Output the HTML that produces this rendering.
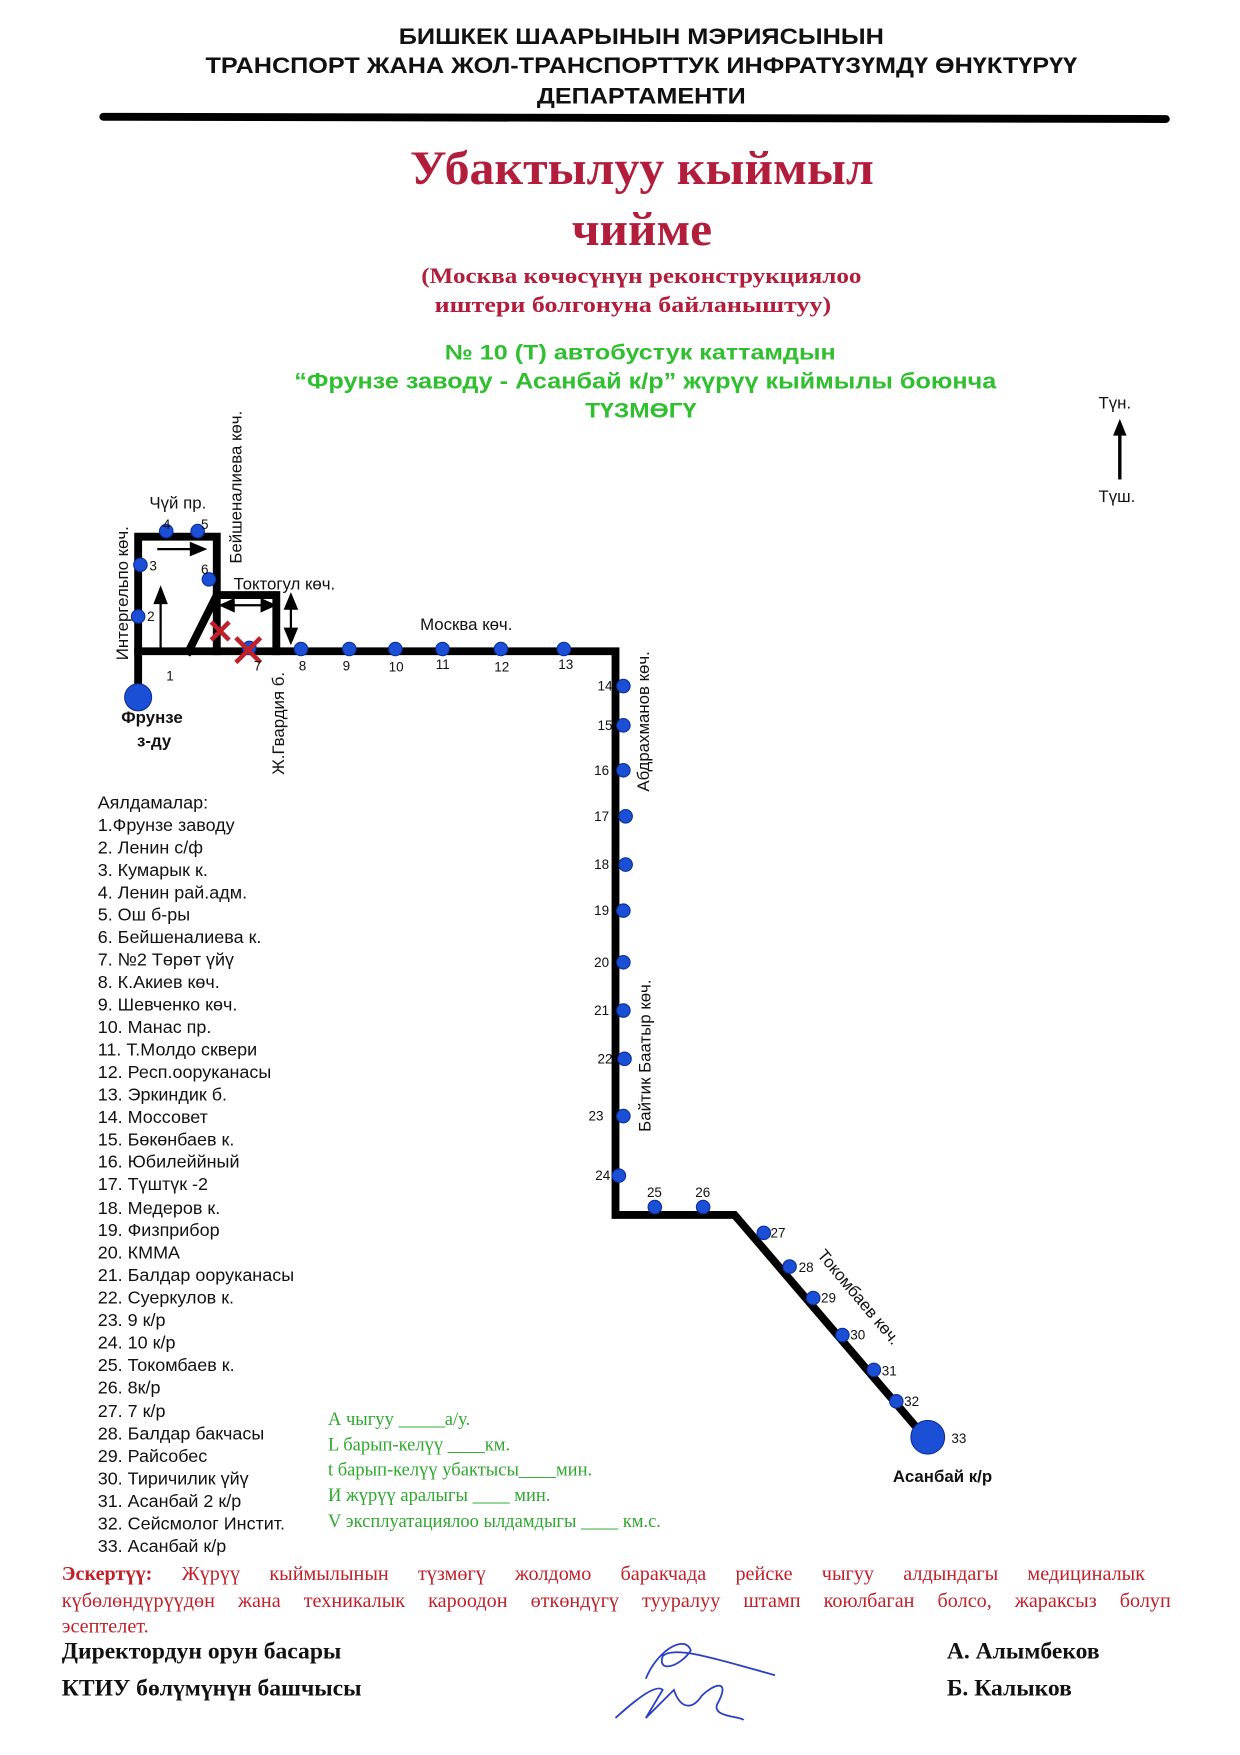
<!DOCTYPE html>
<html><head><meta charset="utf-8"><style>
html,body{margin:0;padding:0;background:#fff;}
svg{display:block;}
.s{font-family:"Liberation Sans",sans-serif;}
.r{font-family:"Liberation Serif",serif;}
</style></head><body>
<svg width="1240" height="1755" viewBox="0 0 1104 1563" preserveAspectRatio="none" xmlns="http://www.w3.org/2000/svg">
<rect width="1104" height="1563" fill="#fff"/>
<g class="s" font-weight="bold" fill="#111">
<text x="355" y="39" font-size="20" textLength="432" lengthAdjust="spacingAndGlyphs">БИШКЕК ШААРЫНЫН  МЭРИЯСЫНЫН</text>
<text x="183" y="65" font-size="20" textLength="776" lengthAdjust="spacingAndGlyphs">ТРАНСПОРТ ЖАНА ЖОЛ-ТРАНСПОРТТУК ИНФРАТҮЗҮМДҮ ӨНҮКТҮРҮҮ</text>
<text x="478" y="92" font-size="20" textLength="186" lengthAdjust="spacingAndGlyphs">ДЕПАРТАМЕНТИ</text>
</g>
<line x1="92" y1="104" x2="1038" y2="106" stroke="#000" stroke-width="7" stroke-linecap="round"/>
<g class="r" font-weight="bold" fill="#b31d3c">
<text x="365" y="164" font-size="42" textLength="413" lengthAdjust="spacingAndGlyphs">Убактылуу кыймыл</text>
<text x="509" y="218" font-size="42" textLength="125" lengthAdjust="spacingAndGlyphs">чийме</text>
<text x="375" y="252" font-size="20" textLength="392" lengthAdjust="spacingAndGlyphs">(Москва көчөсүнүн реконструкциялоо</text>
<text x="387" y="278" font-size="20" textLength="353" lengthAdjust="spacingAndGlyphs">иштери болгонуна байланыштуу)</text>
</g>
<g class="s" font-weight="bold" fill="#2fbf2f">
<text x="396" y="320" font-size="19" textLength="348" lengthAdjust="spacingAndGlyphs">№ 10 (Т) автобустук каттамдын</text>
<text x="262" y="346" font-size="20" textLength="625" lengthAdjust="spacingAndGlyphs">“Фрунзе заводу  - Асанбай к/р” жүрүү кыймылы боюнча</text>
<text x="521" y="372" font-size="19" textLength="99" lengthAdjust="spacingAndGlyphs">ТҮЗМӨГҮ</text>
</g>
<g class="s" font-size="15" fill="#111">
<text x="978" y="364">Түн.</text>
<text x="978" y="447">Түш.</text>
</g>
<line x1="997" y1="427" x2="997" y2="385" stroke="#000" stroke-width="3"/>
<polygon points="997,373 991,388 1003,388" fill="#000"/>

<g stroke="#000" stroke-width="7" fill="none" stroke-linejoin="miter" stroke-linecap="square">
<polyline points="123,618 123,478 193,478 193,580"/>
<polyline points="193,530 246,530 246,580"/>
<line x1="168" y1="580" x2="193" y2="530"/>
<polyline points="123,580 548,580 548,1082 654,1082 820,1276"/>
</g>
<g stroke="#000" stroke-width="2" fill="#000">
<line x1="140" y1="489" x2="172" y2="489"/><polygon points="182,489 170,484 170,494"/>
<line x1="143" y1="577" x2="143" y2="535"/><polygon points="143,524 138,537 148,537"/>
<line x1="205" y1="539" x2="235" y2="539"/><polygon points="197,539 208,534 208,544"/><polygon points="244,539 233,534 233,544"/>
<line x1="259" y1="540" x2="259" y2="562"/><polygon points="259,530 254,542 264,542"/><polygon points="259,572 254,560 264,560"/>
</g>
<g fill="#1b4fd6" stroke="#0d2f9a" stroke-width="1">
<circle cx="123" cy="621" r="12"/>
<circle cx="123" cy="549" r="6"/><circle cx="125" cy="503" r="6"/>
<circle cx="148" cy="473" r="6"/><circle cx="176" cy="473" r="6"/><circle cx="186" cy="516" r="6"/>
<circle cx="222" cy="577" r="6"/><circle cx="268" cy="578" r="6"/><circle cx="311" cy="578" r="6"/>
<circle cx="352" cy="578" r="6"/><circle cx="394" cy="578" r="6"/><circle cx="446" cy="578" r="6"/>
<circle cx="502" cy="578" r="6"/><circle cx="555" cy="611" r="6"/><circle cx="555" cy="646" r="6"/>
<circle cx="555" cy="686" r="6"/><circle cx="557" cy="727" r="6"/><circle cx="557" cy="770" r="6"/>
<circle cx="555" cy="811" r="6"/><circle cx="555" cy="857" r="6"/><circle cx="555" cy="900" r="6"/>
<circle cx="556" cy="943" r="6"/><circle cx="555" cy="994" r="6"/><circle cx="551" cy="1047" r="6"/>
<circle cx="583" cy="1075" r="6"/><circle cx="626" cy="1075" r="6"/><circle cx="680" cy="1098" r="6"/>
<circle cx="703" cy="1128" r="6"/><circle cx="724" cy="1156" r="6"/><circle cx="750" cy="1189" r="6"/>
<circle cx="778" cy="1220" r="6"/><circle cx="798" cy="1248" r="6"/>
<circle cx="826" cy="1280" r="15"/>
</g>
<g stroke="#c0202a" stroke-width="4">
<line x1="188" y1="554" x2="204" y2="570"/><line x1="204" y1="554" x2="188" y2="570"/>
<line x1="210" y1="568" x2="232" y2="590"/><line x1="232" y1="568" x2="210" y2="590"/>
</g>
<g class="s" font-size="12" fill="#111">
<text x="131" y="553">2</text><text x="133" y="508">3</text><text x="145" y="471">4</text><text x="179" y="471">5</text><text x="179" y="511">6</text>
<text x="148" y="606">1</text><text x="226" y="597">7</text><text x="266" y="597">8</text><text x="305" y="597">9</text><text x="346" y="598">10</text>
<text x="388" y="596">11</text><text x="440" y="598">12</text><text x="497" y="596">13</text>
<text x="532" y="615">14</text><text x="532" y="650">15</text><text x="529" y="690">16</text><text x="529" y="731">17</text><text x="529" y="774">18</text>
<text x="529" y="815">19</text><text x="529" y="861">20</text><text x="529" y="904">21</text><text x="532" y="947">22</text><text x="524" y="998">23</text><text x="530" y="1051">24</text>
<text x="576" y="1066">25</text><text x="619" y="1066">26</text><text x="686" y="1102">27</text><text x="711" y="1133">28</text><text x="731" y="1160">29</text>
<text x="757" y="1193">30</text><text x="785" y="1225">31</text><text x="805" y="1252">32</text><text x="847" y="1285">33</text>
</g>
<g class="s" font-size="15" fill="#111">
<text x="133" y="453">Чүй пр.</text>
<text x="208" y="525">Токтогул көч.</text>
<text x="374" y="561">Москва көч.</text>
<text transform="translate(114,588) rotate(-90)">Интергельпо көч.</text>
<text transform="translate(215,502) rotate(-90)">Бейшеналиева көч.</text>
<text transform="translate(253,690) rotate(-90)">Ж.Гвардия б.</text>
<text transform="translate(578,705) rotate(-90)">Абдрахманов көч.</text>
<text transform="translate(579,1008) rotate(-90)">Байтик Баатыр көч.</text>
<text transform="translate(727,1118) rotate(50)">Токомбаев көч.</text>
</g>
<g class="s" font-size="15" font-weight="bold" fill="#111">
<text x="108" y="644">Фрунзе</text><text x="122" y="665">з-ду</text>
<text x="795" y="1320">Асанбай к/р</text>
</g>
<g class="s" font-size="16" fill="#111">
<text x="87" y="720">Аялдамалар:</text>
<text x="87" y="740">1.Фрунзе заводу</text>
<text x="87" y="760">2. Ленин с/ф</text>
<text x="87" y="780">3. Кумарык к.</text>
<text x="87" y="800">4. Ленин рай.адм.</text>
<text x="87" y="820">5. Ош б-ры</text>
<text x="87" y="840">6. Бейшеналиева к.</text>
<text x="87" y="860">7. №2 Төрөт үйү</text>
<text x="87" y="880">8. К.Акиев көч.</text>
<text x="87" y="900">9. Шевченко көч.</text>
<text x="87" y="920">10. Манас пр.</text>
<text x="87" y="940">11. Т.Молдо сквери</text>
<text x="87" y="960">12. Респ.ооруканасы</text>
<text x="87" y="980">13. Эркиндик б.</text>
<text x="87" y="1000">14. Моссовет</text>
<text x="87" y="1020">15. Бөкөнбаев к.</text>
<text x="87" y="1040">16. Юбилеййный</text>
<text x="87" y="1060">17. Түштүк -2</text>
<text x="87" y="1081">18. Медеров к.</text>
<text x="87" y="1101">19. Физприбор</text>
<text x="87" y="1121">20. КММА</text>
<text x="87" y="1141">21. Балдар ооруканасы</text>
<text x="87" y="1161">22. Суеркулов к.</text>
<text x="87" y="1181">23. 9 к/р</text>
<text x="87" y="1201">24. 10 к/р</text>
<text x="87" y="1221">25. Токомбаев к.</text>
<text x="87" y="1241">26. 8к/р</text>
<text x="87" y="1262">27. 7 к/р</text>
<text x="87" y="1282">28. Балдар бакчасы</text>
<text x="87" y="1302">29. Райсобес</text>
<text x="87" y="1322">30. Тиричилик үйү</text>
<text x="87" y="1342">31. Асанбай 2 к/р</text>
<text x="87" y="1362">32. Сейсмолог Инстит.</text>
<text x="87" y="1382">33. Асанбай к/р</text>
</g>
<g class="r" font-size="16.5" fill="#2fa82f">
<text x="292" y="1269">А чыгуу     _____а/у.</text>
<text x="292" y="1292">L барып-келүү  ____км.</text>
<text x="292" y="1314">t барып-келүү убактысы____мин.</text>
<text x="292" y="1337">И жүрүү аралыгы  ____     мин.</text>
<text x="292" y="1360">V эксплуатациялоо ылдамдыгы ____ км.с.</text>
</g>
<g class="r" font-size="18" fill="#c0202a">
<text x="55" y="1407" word-spacing="21.5"><tspan font-weight="bold">Эскертүү:</tspan> Жүрүү кыймылынын түзмөгү жолдомо баракчада рейске чыгуу алдындагы медициналык</text>
<text x="55" y="1431" word-spacing="16">күбөлөндүрүүдөн жана техникалык кароодон өткөндүгү тууралуу штамп коюлбаган болсо, жараксыз болуп</text>
<text x="55" y="1454">эсептелет.</text>
</g>
<g class="r" font-size="21" font-weight="bold" fill="#111">
<text x="55" y="1477">Директордун орун басары</text>
<text x="55" y="1510">КТИУ  бөлүмүнүн башчысы</text>
<text x="843" y="1477">А. Алымбеков</text>
<text x="843" y="1510">Б. Калыков</text>
</g>
<g stroke="#2b3fc4" stroke-width="1.6" fill="none">
<path d="M575,1495 C585,1470 610,1455 615,1470 C605,1485 585,1490 590,1475 C600,1465 640,1478 690,1492"/>
<path d="M548,1530 C570,1510 585,1500 590,1505 L575,1530 L600,1505 C605,1520 615,1525 625,1510 C635,1500 650,1495 640,1515 C630,1530 660,1528 662,1532"/>
</g>
</svg>
</body></html>
